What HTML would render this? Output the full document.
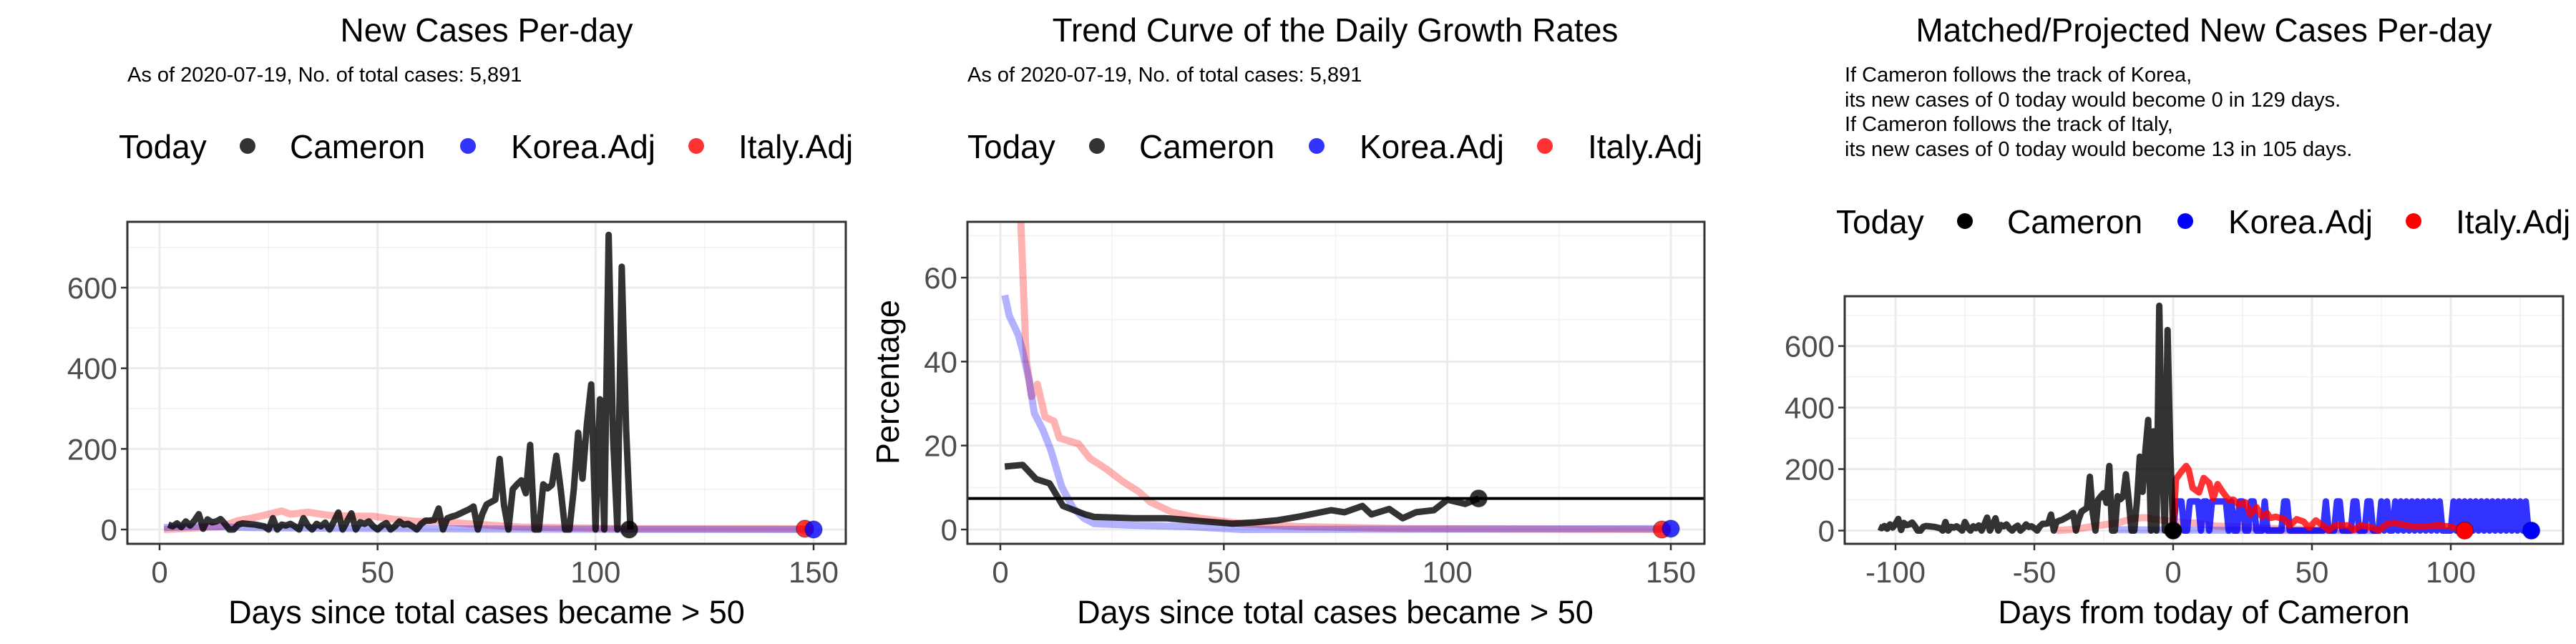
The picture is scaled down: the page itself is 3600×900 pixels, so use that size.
<!DOCTYPE html>
<html><head><meta charset="utf-8"><style>
html,body{margin:0;padding:0;background:#fff;}
svg{display:block;font-family:"Liberation Sans",Arial,sans-serif;}
</style></head><body>
<svg id="chart" width="3600" height="900" viewBox="0 0 3600 900" xmlns="http://www.w3.org/2000/svg">
<defs>
<clipPath id="c1"><rect x="178" y="310" width="1004" height="450"/></clipPath>
<clipPath id="c2"><rect x="1352" y="310" width="1030" height="450"/></clipPath>
<clipPath id="c3"><rect x="2578" y="414" width="1004" height="346"/></clipPath>
</defs>
<g id="p1">
<text x="680" y="58" font-size="46" text-anchor="middle">New Cases Per-day</text>
<text x="178" y="114" font-size="29">As of 2020-07-19, No. of total cases: 5,891</text>
<g font-size="46">
<text x="166" y="221">Today</text>
<circle cx="346" cy="204" r="11" fill="#333"/>
<text x="405" y="221">Cameron</text>
<circle cx="654" cy="204" r="11" fill="#3333ff"/>
<text x="714" y="221">Korea.Adj</text>
<circle cx="973" cy="204" r="11" fill="#ff3333"/>
<text x="1032" y="221">Italy.Adj</text>
</g>
<text x="680" y="871" font-size="45" text-anchor="middle">Days since total cases became &gt; 50</text>
</g>
<g id="p2">
<text x="1866" y="58" font-size="46" text-anchor="middle">Trend Curve of the Daily Growth Rates</text>
<text x="1352" y="114" font-size="29">As of 2020-07-19, No. of total cases: 5,891</text>
<g font-size="46">
<text x="1352" y="221">Today</text>
<circle cx="1533" cy="204" r="11" fill="#333"/>
<text x="1592" y="221">Cameron</text>
<circle cx="1840" cy="204" r="11" fill="#3333ff"/>
<text x="1900" y="221">Korea.Adj</text>
<circle cx="2159" cy="204" r="11" fill="#ff3333"/>
<text x="2219" y="221">Italy.Adj</text>
</g>
<text x="0" y="0" font-size="45" text-anchor="middle" transform="translate(1256,534) rotate(-90)">Percentage</text>
<text x="1866" y="871" font-size="45" text-anchor="middle">Days since total cases became &gt; 50</text>
</g>
<g id="p3">
<text x="3080" y="58" font-size="46" text-anchor="middle">Matched/Projected New Cases Per-day</text>
<g font-size="29">
<text x="2578" y="114">If Cameron follows the track of Korea,</text>
<text x="2578" y="149">its new cases of 0 today would become 0 in 129 days.</text>
<text x="2578" y="183">If Cameron follows the track of Italy,</text>
<text x="2578" y="218">its new cases of 0 today would become 13 in 105 days.</text>
</g>
<g font-size="46">
<text x="2566" y="326">Today</text>
<circle cx="2746" cy="309" r="11" fill="#000"/>
<text x="2805" y="326">Cameron</text>
<circle cx="3054" cy="309" r="11" fill="#0000ff"/>
<text x="3114" y="326">Korea.Adj</text>
<circle cx="3373" cy="309" r="11" fill="#ff0000"/>
<text x="3432" y="326">Italy.Adj</text>
</g>
<text x="3080" y="871" font-size="45" text-anchor="middle">Days from today of Cameron</text>
</g>
</svg>
<script>
// ---- data ----
const cameronStartDay = 2;
const cameronCases = [12,8,15,6,20,10,22,38,2,25,18,20,26,14,0,0,12,15,14,13,12,10,8,0,28,0,12,10,14,8,0,28,10,0,14,8,17,0,20,42,0,20,40,0,18,14,20,8,0,10,16,0,8,20,12,14,8,0,14,22,22,24,52,0,28,32,35,40,45,50,57,0,38,62,68,74,175,60,0,100,112,122,90,210,0,0,112,102,111,183,100,0,0,100,240,126,260,360,0,323,0,731,230,0,652,250,0];
const todayDay = 108;
const italyCasesDays = [1,14,18,21,25,28,30,34,39,44,49,54,59,64,71,77,83,96,109,148];
const italyCasesVals = [0,7,22,28,38,46,38,43,35,33,33,25,20,20,14,10,6,4,2,2];
const koreaCasesDays = [1,10,20,40,60,80,110,150];
const koreaCasesVals = [5,8,5,3,2,1,0.5,0];
const camRateDays = [1,5,8,11,14,19,21,30,37,45,52,57,62,67,74,77,81,83,87,90,93,97,100,104,107];
const camRateVals = [15,15.4,12,11,5.6,3.6,3,2.7,2.7,2,1.4,1.7,2.2,3.1,4.6,4.1,5.6,3.6,4.9,2.7,4.1,4.6,7.1,6.1,7.4];
const koreaRateDays = [1,2,4,5,6.4,7.6,9.5,11.3,13.8,16.3,18.7,21,30,42,54,150];
const koreaRateVals = [55.8,50.9,46.4,42.5,35.6,27.7,23.8,18.9,10,5.1,2.7,1.4,1,0.7,0,0.2];
const italyRateDays = [1,2,3,4.6,5.8,7,8.3,10,12,13.2,17.5,20,23.6,27.3,31,33.5,38.4,44.6,54,66.7,91,148];
const italyRateVals = [90,95,85,73,40.5,31.7,34.6,26.8,25.8,21.8,20.4,17,14.5,11.5,9,6.6,4.1,2.7,1.4,0.7,0.2,0];
const hlineRate = 7.4;
const koreaProj = [0,95,95,95,0,0,95,95,95,95,0,95,95,0,95,95,95,95,95,95,0,95,0,0,95,95,0,0,95,95,0,0,0,95,0,0,0,0,0,0,95,95,0,0,0,0,0,0,0,0,0,0,0,0,0,95,0,0,0,95,95,0,0,0,0,95,95,0,0,0,95,95,0,0,0,95,0,95,0,0,95,0,95,0,95,0,95,0,95,0,95,0,95,0,95,0,95,0,0,0,0,95,0,95,0,95,0,95,0,95,0,95,0,95,0,95,0,95,0,95,0,95,0,95,0,95,0,95,0,0];
const italyProjDays = [0,1,2.8,4.7,5.6,7,9.3,11,13,14.4,16,18,20,21.8,23.7,26,27.8,30,32,33.8,35,37,40,42,44.5,47,49,51.4,53.8,56,58.4,63,65,67.6,72,74,77,79.7,86,90.8,95.4,100,103,105];
const italyProjVals = [0,167,190,210,198,139,124,171,155,104,151,124,100,100,84,92,53,76,45,57,41,45,37,17,37,29,9,33,17,2,17,17,2,17,9,0,21,25,13,13,17,13,5,0];
const italyMatchDays = [-42,-35,-28,-20,-14,-10,-5,0,5,8,15,21,30,40,55,75];
const italyMatchVals = [0,5,15,25,40,42,35,30,25,25,15,13,10,5,3,2];
const koreaMatchDays = [-20,-10,0,20,40,75];
const koreaMatchVals = [3,2,2,1,0.5,0];
const xTicks12 = [0,50,100,150], xMinor12 = [25,75,125];
const yTicks1 = [0,200,400,600], yMinor1 = [100,300,500,700];
const yTicks2 = [0,20,40,60], yMinor2 = [10,30,50,70];
const xTicks3 = [-100,-50,0,50,100], xMinor3 = [-75,-25,25,75,125];

const NS="http://www.w3.org/2000/svg";
const svg=document.getElementById('chart');
function el(tag,attrs,parent){const e=document.createElementNS(NS,tag);for(const k in attrs)e.setAttribute(k,attrs[k]);(parent||svg).appendChild(e);return e;}

function panel(cfg){
  const g=el('g',{});
  
  
  const sx=v=>cfg.x0+(v-cfg.dx0)*(cfg.x1-cfg.x0)/(cfg.dx1-cfg.dx0);
  const sy=v=>cfg.y0+(v-cfg.dy0)*(cfg.y1-cfg.y0)/(cfg.dy1-cfg.dy0);
  const L=cfg.L,T=cfg.T,R=cfg.R,B=cfg.B;
  const bg=el('rect',{x:L,y:T,width:R-L,height:B-T,fill:'#fff'},g);
  
  
  cfg.xMinor.forEach(v=>{const l=el('line',{x1:sx(v),x2:sx(v),y1:T,y2:B,stroke:'#f2f2f2','stroke-width':1.5},g);
    
    });
  cfg.yMinor.forEach(v=>{if(sy(v)<T)return;const l=el('line',{x1:L,x2:R,y1:sy(v),y2:sy(v),stroke:'#f2f2f2','stroke-width':1.5},g);
    
    });
  cfg.xTicks.forEach(v=>{const l=el('line',{x1:sx(v),x2:sx(v),y1:T,y2:B,stroke:'#ebebeb','stroke-width':3},g);
    
    
    const t=el('line',{x1:sx(v),x2:sx(v),y1:B,y2:B+9,stroke:'#333','stroke-width':2.5},g);
    
    
    const tx=el('text',{x:sx(v),y:814,'font-size':42,fill:'#4d4d4d','text-anchor':'middle'},g);tx.textContent=v;
    
    });
  cfg.yTicks.forEach(v=>{const l=el('line',{x1:L,x2:R,y1:sy(v),y2:sy(v),stroke:'#ebebeb','stroke-width':3},g);
    
    
    const t=el('line',{x1:L-9,x2:L,y1:sy(v),y2:sy(v),stroke:'#333','stroke-width':2.5},g);
    
    
    const tx=el('text',{x:L-14,y:sy(v)+15,'font-size':42,fill:'#4d4d4d','text-anchor':'end'},g);tx.textContent=v;
    
    });
  const mg=el('g',{'clip-path':'url(#'+cfg.clip+')'},g);
  
  
  const api={
    line(xs,ys,color,op,w,name){const d=xs.map((x,i)=>(i?'L':'M')+sx(x).toFixed(1)+','+sy(ys[i]).toFixed(1)).join('');
      const p=el('path',{d,fill:'none',stroke:color,'stroke-opacity':op,'stroke-width':w,'stroke-linejoin':'round'},mg);
      
      },
    hline(v,name){const p=el('line',{x1:L,x2:R,y1:sy(v),y2:sy(v),stroke:'#000','stroke-width':4},mg);
      
      },
    dot(x,y,color,op,name){const c=el('circle',{cx:sx(x),cy:sy(y),r:12,fill:color,'fill-opacity':op,stroke:'#000','stroke-opacity':0.3,'stroke-width':1.5},mg);
      
      },
    frame(){const f=el('rect',{x:L,y:T,width:R-L,height:B-T,fill:'none',stroke:'#333','stroke-width':3},g);
      
      }
  };
  return api;
}
const camDays=cameronCases.map((v,i)=>cameronStartDay+i);

// Panel 1
const P1=panel({name:'new-cases',clip:'c1',L:178,T:310,R:1182,B:760,x0:223,x1:1137,dx0:0,dx1:150,y0:740,y1:402,dy0:0,dy1:600,
  xTicks:xTicks12,xMinor:xMinor12,yTicks:yTicks1,yMinor:yMinor1});
P1.line(italyCasesDays,italyCasesVals,'#ff0000',0.3,10,'italy-adj-line');
P1.line(koreaCasesDays,koreaCasesVals,'#0000ff',0.3,10,'korea-adj-line');
P1.line(camDays,cameronCases,'#000',0.8,9,'cameron-line');
P1.dot(todayDay-0.3,0,'#000',0.8,'cameron-today-dot');
P1.dot(148,2,'#ff0000',0.8,'italy-today-dot');
P1.dot(150,0,'#0000ff',0.8,'korea-today-dot');
P1.frame();

// Panel 2
const P2=panel({name:'growth-rate',clip:'c2',L:1352,T:310,R:2382,B:760,x0:1398,x1:2335,dx0:0,dx1:150,y0:740,y1:388,dy0:0,dy1:60,
  xTicks:xTicks12,xMinor:xMinor12,yTicks:yTicks2,yMinor:yMinor2});
P2.line(italyRateDays,italyRateVals,'#ff0000',0.3,10,'italy-adj-rate-line');
P2.line(koreaRateDays,koreaRateVals,'#0000ff',0.3,10,'korea-adj-rate-line');
P2.line(camRateDays,camRateVals,'#000',0.8,9,'cameron-rate-line');
P2.hline(hlineRate,'reference-hline');
P2.dot(107,7.4,'#000',0.8,'cameron-today-dot');
P2.dot(148,0,'#ff0000',0.8,'italy-today-dot');
P2.dot(150,0.2,'#0000ff',0.8,'korea-today-dot');
P2.frame();

// Panel 3
const P3=panel({name:'projection',clip:'c3',L:2578,T:414,R:3582,B:760,x0:3037,x1:3425,dx0:0,dx1:100,y0:741.5,y1:483.6,dy0:0,dy1:600,
  xTicks:xTicks3,xMinor:xMinor3,yTicks:yTicks1,yMinor:yMinor1});
P3.line(italyMatchDays,italyMatchVals,'#ff0000',0.3,10,'italy-matched-line');
P3.line(koreaMatchDays,koreaMatchVals,'#0000ff',0.3,10,'korea-matched-line');
P3.line(koreaProj.map((v,i)=>i),koreaProj,'#0000ff',0.8,9,'korea-projected-line');
P3.line(italyProjDays,italyProjVals,'#ff0000',0.8,9,'italy-projected-line');
P3.line(camDays.map(d=>d-todayDay),cameronCases,'#000',0.8,9,'cameron-line');
P3.dot(0,0,'#000',1,'cameron-today-dot');
P3.dot(105,0,'#ff0000',1,'italy-projected-end-dot');
P3.dot(129,0,'#0000ff',1,'korea-projected-end-dot');
P3.frame();
</script>
</body></html>
